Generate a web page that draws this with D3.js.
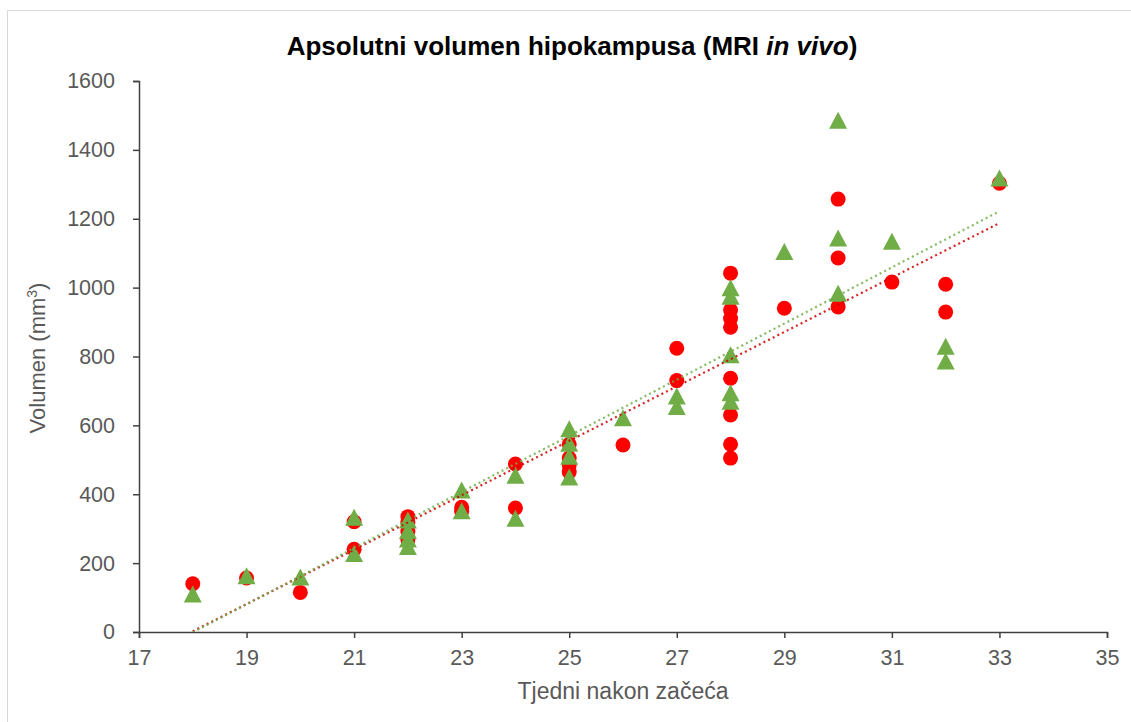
<!DOCTYPE html>
<html>
<head>
<meta charset="utf-8">
<script src="https://cdn.jsdelivr.net/npm/d3@7"></script>
<style>
  body { margin: 0; background: #fff; }
  text { font-family: "Liberation Sans", Arial, sans-serif; }
  .tick text { fill: #595959; font-size: 21.5px; }
  .axis path, .axis line { stroke: #404040; stroke-width: 1.5px; }
</style>
</head>
<body>
<div id="scatter"></div>
<script>
// data (weeks, volume mm3)
// some red points sit hidden under the triangles at 22, 23 and 25 weeks
var redWeeks = [18, 19, 20, 21, 21, 22, 22, 22, 22, 23, 23, 24, 24, 25, 25, 25, 25, 26, 27, 27,
  28, 28, 28, 28, 28, 28, 28, 28, 29, 30, 30, 30, 31, 32, 32, 33];
var redVolume = [140, 157, 115, 320, 240, 335, 318, 292, 268, 362, 350, 488, 360, 485, 465, 545, 505, 543, 824, 730,
  1042, 935, 910, 885, 737, 630, 545, 505, 940, 1257, 1086, 944, 1016, 1010, 929, 1303];

var greenWeeks = [18, 19, 20, 21, 21, 22, 22, 22, 22, 23, 23, 24, 24, 25, 25, 25, 25, 26, 27, 27,
  28, 28, 28, 28, 28, 29, 30, 30, 30, 31, 32, 32, 33];
var greenVolume = [110, 163, 160, 333, 228, 325, 295, 270, 248, 412, 352, 455, 330, 590, 548, 510, 450, 622, 685, 655,
  1000, 975, 805, 695, 670, 1105, 1486, 1144, 984, 1135, 830, 787, 1318];

var xTicks = [17, 19, 21, 23, 25, 27, 29, 31, 33, 35];
var yTicks = [0, 200, 400, 600, 800, 1000, 1200, 1400, 1600];

var svgWidth = 1131;
var svgHeight = 722;

var margin = { top: 81, right: 24, bottom: 90, left: 139 };
var width = 1107 - margin.left;
var height = 632 - margin.top;

var svg = d3.select("#scatter")
  .append("svg")
  .attr("width", svgWidth)
  .attr("height", svgHeight);

// chart frame
svg.append("rect")
  .attr("x", 7.5).attr("y", 10.5)
  .attr("width", svgWidth + 10).attr("height", svgHeight + 10)
  .attr("fill", "#fff")
  .attr("stroke", "#d9d9d9");

var chartGroup = svg.append("g")
  .attr("transform", `translate(${margin.left}, ${margin.top})`);

var x = d3.scaleLinear().domain([17, 35]).range([0, width]);
var y = d3.scaleLinear().domain([0, 1600]).range([height, 0]);

chartGroup.append("clipPath").attr("id", "plot")
  .append("rect").attr("width", width).attr("height", height);

// axes
chartGroup.append("g")
  .attr("class", "axis")
  .attr("transform", `translate(0, ${height})`)
  .call(d3.axisBottom(x).tickValues(xTicks).tickFormat(d3.format("d"))
    .tickSize(6).tickPadding(12).tickSizeOuter(6));

chartGroup.append("g")
  .attr("class", "axis")
  .call(d3.axisLeft(y).tickValues(yTicks).tickFormat(d3.format("d"))
    .tickSize(6).tickPadding(18).tickSizeOuter(6));

chartGroup.selectAll(".tick text").attr("font-family", null);

// linear trendlines (least squares)
function fit(xs, ys) {
  var mx = d3.mean(xs), my = d3.mean(ys);
  var sxy = d3.sum(xs, (v, i) => (v - mx) * (ys[i] - my));
  var sxx = d3.sum(xs, v => (v - mx) * (v - mx));
  var b = sxy / sxx;
  return { b: b, a: my - b * mx };
}

function trend(xs, ys, color) {
  var f = fit(xs, ys);
  var ext = d3.extent(xs);
  chartGroup.append("line")
    .attr("clip-path", "url(#plot)")
    .attr("x1", x(ext[0])).attr("y1", y(f.a + f.b * ext[0]))
    .attr("x2", x(ext[1])).attr("y2", y(f.a + f.b * ext[1]))
    .attr("stroke", color)
    .attr("stroke-width", 2.2)
    .attr("stroke-dasharray", "2,3.2")
    .attr("opacity", 0.85);
}

// red circles
chartGroup.selectAll("circle")
  .data(redWeeks)
  .enter()
  .append("circle")
  .attr("cx", d => x(d))
  .attr("cy", (d, i) => y(redVolume[i]))
  .attr("r", 7.5)
  .attr("fill", "#ff0000");

// green triangles
var tri = "M0,-8.5L9,8.5L-9,8.5Z";
chartGroup.selectAll("path.tri")
  .data(greenWeeks)
  .enter()
  .append("path")
  .attr("class", "tri")
  .attr("d", tri)
  .attr("transform", (d, i) => `translate(${x(d)}, ${y(greenVolume[i])})`)
  .attr("fill", "#70ad47");

trend(redWeeks, redVolume, "#d00000");
trend(greenWeeks, greenVolume, "#70ad47");

// title
var title = svg.append("text")
  .attr("x", 572)
  .attr("y", 55)
  .attr("text-anchor", "middle")
  .style("font-size", "26px")
  .style("font-weight", "bold")
  .attr("fill", "#000");
title.append("tspan").text("Apsolutni volumen hipokampusa (MRI ");
title.append("tspan").style("font-style", "italic").text("in vivo");
title.append("tspan").text(")");

// axis labels
svg.append("text")
  .attr("x", 623)
  .attr("y", 699)
  .attr("text-anchor", "middle")
  .style("font-size", "23px")
  .attr("fill", "#595959")
  .text("Tjedni nakon začeća");

var yLabel = svg.append("text")
  .attr("transform", "translate(45, 358) rotate(-90)")
  .attr("text-anchor", "middle")
  .style("font-size", "22px")
  .attr("fill", "#595959");
yLabel.append("tspan").text("Volumen (mm");
yLabel.append("tspan").attr("dy", -8).style("font-size", "14px").text("3");
yLabel.append("tspan").attr("dy", 8).text(")");
</script>
</body>
</html>
